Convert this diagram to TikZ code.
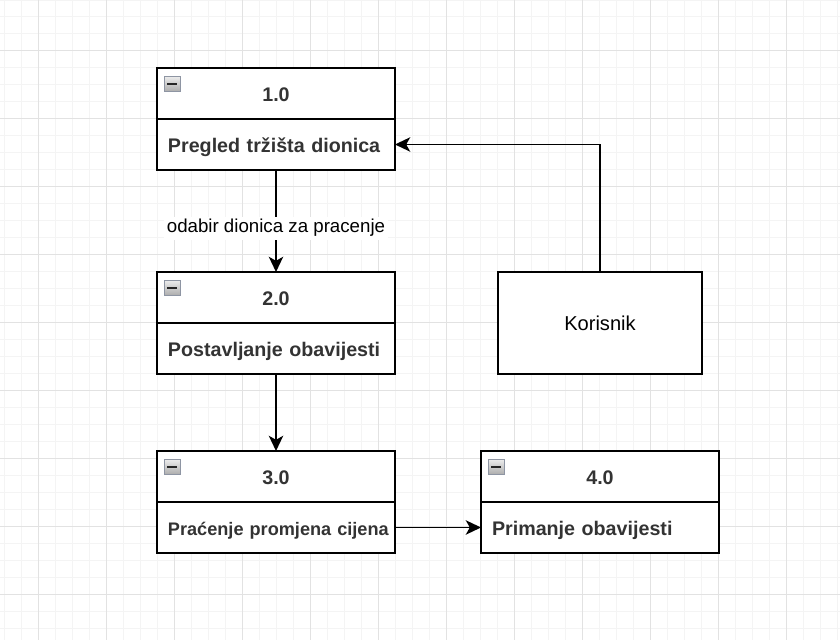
\documentclass[tikz,border=0pt]{standalone}
\usepackage{fontspec}
\setmainfont{Liberation Sans}
\usepackage{tikz}
\usetikzlibrary{positioning, arrows.meta}
\usepackage{xcolor}
\definecolor{TextGray}{HTML}{333333}
\definecolor{GridMinor}{HTML}{F4F4F4}
\definecolor{GridMajor}{HTML}{E2E2E2}
\definecolor{IconEdge}{HTML}{8E95A3}
\definecolor{IconTop}{HTML}{EDEDED}
\definecolor{IconBottom}{HTML}{ABABAB}

\begin{document}
\begin{tikzpicture}[
    head/.style={draw=black, line width=1.3pt, fill=white, outer sep=0pt, inner sep=0pt, minimum width=5.95cm, minimum height=1.275cm, text height=0.42cm, text depth=0pt, font=\fontsize{14}{16}\selectfont\bfseries, text=TextGray},
    body/.style={head, text width=5.4cm, inner xsep=0.275cm, align=left},
    actor/.style={draw=black, line width=1.3pt, fill=white, minimum width=5.1cm, minimum height=2.55cm, font=\fontsize{14.3}{17}\selectfont},
    icon/.style={draw=IconEdge, line width=0.8pt, top color=IconTop, bottom color=IconBottom, minimum size=0.39cm, inner sep=0pt, anchor=north west,
        path picture={\draw[line width=1.2pt, black!85] ([xshift=0.07cm]path picture bounding box.west) -- ([xshift=-0.07cm]path picture bounding box.east);}},
    arr/.style={-{Stealth[length=3.8mm, width=3.6mm, inset=1mm]}, line width=1.2pt, black},
    lbl/.style={fill=white, inner sep=2pt, font=\fontsize{13.3}{16}\selectfont}
]

% Background grid
\useasboundingbox (0,0) rectangle (21,16);
\fill[white] (0,0) rectangle (21,16);
\draw[GridMinor, line width=0.7pt, xshift=0.1cm, yshift=0.275cm] (-0.1,-0.275) grid[step=0.425cm] (20.9,15.725);
\draw[GridMajor, line width=0.7pt, xshift=0.95cm, yshift=1.125cm] (-0.95,-1.125) grid[step=1.7cm] (20.05,14.875);

% Process 1.0
\node[head] (p1) at (6.9, 13.6625) {1.0};
\node[body, below=0pt of p1] (p1b) {Pregled tržišta dionica};
\node[icon] (i1) at ([shift={(0.175,-0.19)}]p1.north west) {};

% Process 2.0
\node[head] (p2) at (6.9, 8.5625) {2.0};
\node[body, below=0pt of p2] (p2b) {Postavljanje obavijesti};
\node[icon] (i2) at ([shift={(0.175,-0.19)}]p2.north west) {};

% Process 3.0
\node[head] (p3) at (6.9, 4.0875) {3.0};
\node[body, below=0pt of p3, font=\fontsize{12.9}{15}\selectfont\bfseries] (p3b) {\mbox{Praćenje promjena cijena}};
\node[icon] (i3) at ([shift={(0.175,-0.19)}]p3.north west) {};

% Process 4.0
\node[head] (p4) at (15.0, 4.0875) {4.0};
\node[body, below=0pt of p4] (p4b) {Primanje obavijesti};
\node[icon] (i4) at ([shift={(0.175,-0.19)}]p4.north west) {};

% External entity
\node[actor] (user) at (15.0, 7.925) {Korisnik};

% Flows
\draw[arr] (p1b.south) -- node[lbl, pos=0.57] (l12) {odabir dionica za pracenje} (p2.north);
\draw[arr] (p2b.south) -- (p3.north);
\draw[arr] (user.north) |- (p1b.east);
\draw[arr] (p3b.east) -- (p4b.west);

\end{tikzpicture}
\end{document}
